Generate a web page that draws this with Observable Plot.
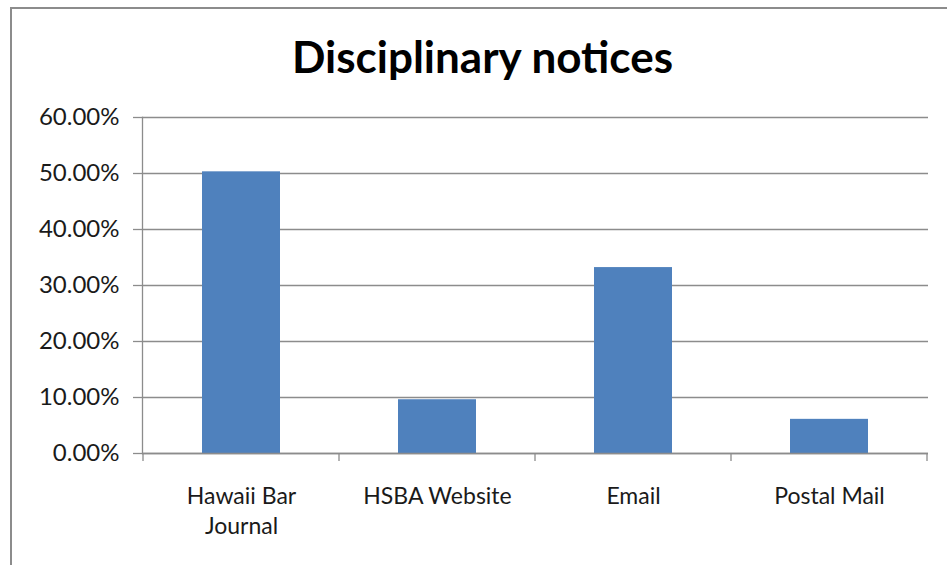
<!DOCTYPE html>
<html>
<head>
<meta charset="utf-8">
<script src="https://cdn.jsdelivr.net/npm/d3@7"></script>
<script src="https://cdn.jsdelivr.net/npm/@observablehq/plot@0.6"></script>
<style>
  html, body { margin: 0; padding: 0; background: #fff; }
  #wrap { position: relative; width: 947px; height: 565px; overflow: hidden; background: #fff; }
  #border { position: absolute; left: 10px; top: 7px; width: 1000px; height: 700px;
            border-left: 2px solid #8c8c8c; border-top: 2px solid #8c8c8c; }
  #title { position: absolute; left: 0; width: 965px; top: 30px; text-align: center;
           font-family: Lato, sans-serif; font-weight: bold; font-size: 44px; color: #000; }
  #chart { position: absolute; left: 0; top: 0; }
</style>
</head>
<body>
<div id="wrap">
  <div id="border"></div>
  <div id="title">Disciplinary notices</div>
  <div id="chart"></div>
</div>
<script>
const categories = ["Hawaii Bar Journal", "HSBA Website", "Email", "Postal Mail"];
const categoryLabels = ["Hawaii Bar\nJournal", "HSBA Website", "Email", "Postal Mail"];
const values = [0.503, 0.096, 0.332, 0.061];
const yTicks = [0, 0.1, 0.2, 0.3, 0.4, 0.5, 0.6];

const data = categories.map((c, i) => ({category: c, value: values[i]}));
const labelOf = new Map(categories.map((c, i) => [c, categoryLabels[i]]));

const gridColor = "#8c8c8c";
const textColor = "#1a1a1a";
const font = "Lato, sans-serif";

// boundary tick marks between category bands
const boundaryTicks = (index, scales, values, dimensions) => {
  const x = scales.x;
  const bw = typeof x.bandwidth === "function" ? x.bandwidth() : 0;
  const step = x(categories[1]) - x(categories[0]);
  const gap = (step - bw) / 2;
  const y0 = scales.y(0);
  const g = d3.create("svg:g");
  const xs = categories.map(c => x(c) - gap);
  xs.push(x(categories[categories.length - 1]) + bw + gap);
  g.selectAll("line").data(xs).join("line")
    .attr("x1", d => d).attr("x2", d => d)
    .attr("y1", y0).attr("y2", y0 + 8)
    .attr("stroke", gridColor).attr("stroke-width", 1.3);
  return g.node();
};

const chart = Plot.plot({
  width: 947,
  height: 565,
  marginLeft: 142,
  marginRight: 19,
  marginTop: 117,
  marginBottom: 112,
  style: {fontFamily: font, background: "transparent", overflow: "visible"},
  x: {domain: categories, paddingInner: 0.6, paddingOuter: 0.3, label: null},
  y: {domain: [0, 0.6], ticks: yTicks, label: null},
  marks: [
    Plot.gridY(yTicks, {stroke: gridColor, strokeOpacity: 1, strokeWidth: 1.3}),
    Plot.barY(data, {x: "category", y: "value", fill: "#4f81bd"}),
    Plot.frame({anchor: "left", stroke: gridColor, strokeWidth: 1.3}),
    Plot.ruleY([0], {stroke: gridColor, strokeWidth: 1.3}),
    Plot.axisY(yTicks, {tickFormat: d3.format(".2%"), tickSize: 9, tickPadding: 14,
      stroke: gridColor, strokeWidth: 1.3, fontSize: 24, fill: textColor, label: null}),
    Plot.axisX({tickSize: 0, tickPadding: 29, tickFormat: d => labelOf.get(d),
      fontSize: 23, fill: textColor, lineHeight: 1.3, label: null}),
    boundaryTicks
  ]
});
document.getElementById("chart").appendChild(chart);
</script>
</body>
</html>
